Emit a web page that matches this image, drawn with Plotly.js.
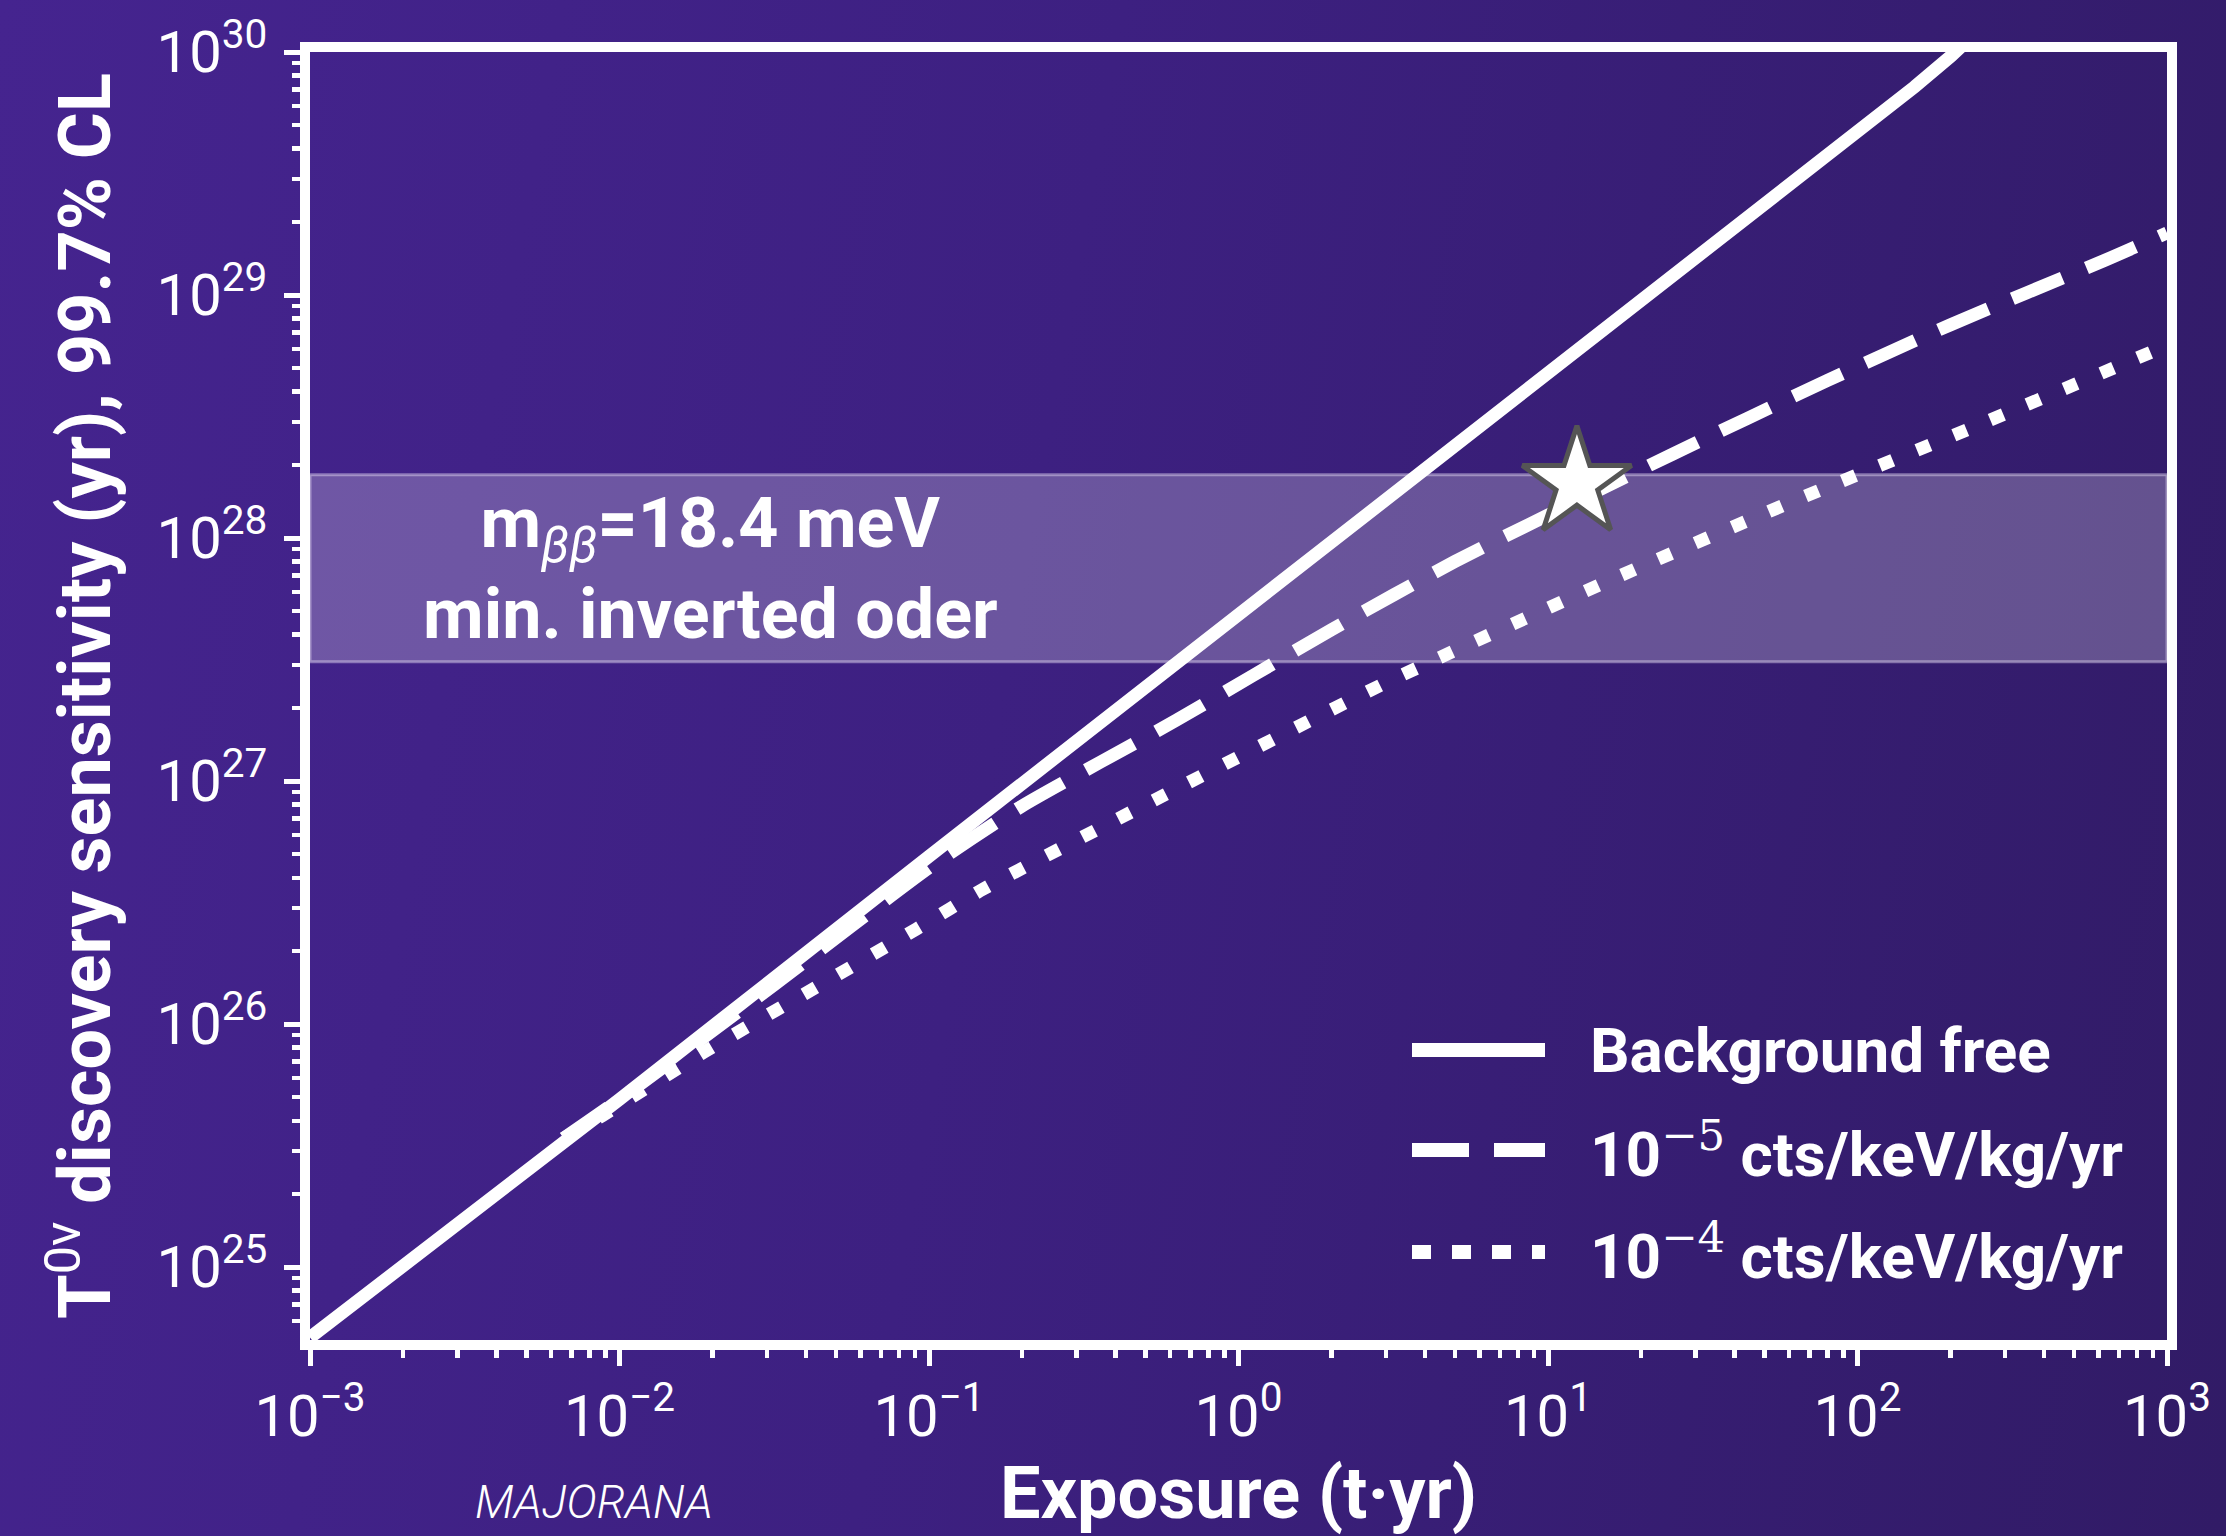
<!DOCTYPE html>
<html><head><meta charset="utf-8">
<script src="https://cdn.plot.ly/plotly-3.0.1.min.js"></script>
<style>
html,body{margin:0;padding:0;width:2226px;height:1536px;overflow:hidden;
background:linear-gradient(100deg,#45248f 0%,#3d2081 45%,#311b66 100%);}
#chart{width:2226px;height:1536px;}
</style></head><body><div id="chart"></div>
<script>
// ---- data (exposure in t·yr, half-life sensitivity in yr) ----
const bgFreeExposure = [0.001, 0.01, 0.1, 1, 10, 100, 153, 200, 250];
const bgFreeT        = [5.13e24, 4.9e25, 4.9e26, 4.79e27, 4.68e28, 4.6e29, 7.19e29, 9.6e29, 1.25e30];

const bkg5Exposure = [0.0066, 0.01, 0.0316, 0.1, 0.2, 0.63, 2.0, 5.0, 25, 80, 200, 630, 1000];
const bkg5T        = [3.39e25, 4.9e25, 1.45e26, 4.4e26, 7.9e26, 1.78e27, 4.2e27, 8.0e27, 2.2e28, 4.45e28, 7.55e28, 1.39e29, 1.80e29];

const bkg4Exposure = [0.0066, 0.0088, 0.019, 0.042, 0.091, 0.15, 0.58, 2.9, 15, 59, 240, 1000];
const bkg4T        = [3.39e25, 4.2e25, 7.75e25, 1.39e26, 2.46e26, 3.6e26, 8.8e26, 2.49e27, 6.5e27, 1.38e28, 2.88e28, 6.2e28];

const starExposure = [12.4];
const starT        = [1.68e28];

const bandLow  = 3.1e27;   // m_bb = 18.4 meV band
const bandHigh = 1.82e28;

const supStyle = 'font-family:DejaVu Serif;font-weight:normal';
const seriesNames = [
  'Background free',
  '10<sup><span style="' + supStyle + '">−5</span></sup> cts/keV/kg/yr',
  '10<sup><span style="' + supStyle + '">−4</span></sup> cts/keV/kg/yr'
];

const xTickVals = [0.001, 0.01, 0.1, 1, 10, 100, 1000];
const xTickText = ['10<sup>−3</sup>','10<sup>−2</sup>','10<sup>−1</sup>','10<sup>0</sup>','10<sup>1</sup>','10<sup>2</sup>','10<sup>3</sup>'];
const yTickVals = [1e25, 1e26, 1e27, 1e28, 1e29, 1e30];
const yTickText = ['10<sup>25</sup>','10<sup>26</sup>','10<sup>27</sup>','10<sup>28</sup>','10<sup>29</sup>','10<sup>30</sup>'];

// ---- styling ----
const W = 'white';
const LW = 13;
const traces = [
  {x: bgFreeExposure, y: bgFreeT, mode:'lines', name: seriesNames[0], line:{color:W, width:LW}},
  {x: bkg5Exposure, y: bkg5T, mode:'lines', name: seriesNames[1], line:{color:W, width:LW, dash:'54px,26px', shape:'spline', smoothing:0.6}},
  {x: bkg4Exposure, y: bkg4T, mode:'lines', name: seriesNames[2], line:{color:W, width:LW, dash:'14px,26px', shape:'spline', smoothing:0.6}},
  {x: starExposure, y: starT, mode:'markers', name:'star',
   marker:{symbol:'star', size:82, color:'white', line:{color:'#555555', width:5}}}
];

const L = 310, R = 59, T = 52, B = 196;
const plotW = 2226 - L - R, plotH = 1536 - T - B;
const px = v => (v - L) / plotW;
const py = v => (1536 - B - v) / plotH;

const tickFont = {family:'Roboto, sans-serif', size:58, color:W};
const titleFont = {family:'Roboto, sans-serif', size:72, color:W, weight:700};

const legendRows = [1050, 1150, 1252];
const legendDash = ['solid', '57px,25px', '19px,21px'];

const shapes = [
  {type:'rect', xref:'x domain', x0:0, x1:1, yref:'y', y0:bandLow, y1:bandHigh,
   fillcolor:'rgba(215,208,228,0.30)', line:{color:'rgba(230,222,245,0.45)', width:3}, layer:'below'}
];
legendRows.forEach((r, i) => {
  shapes.push({type:'line', xref:'paper', yref:'paper', x0:px(1412), x1:px(1545), y0:py(r), y1:py(r),
    line:{color:W, width:14, dash:legendDash[i]}});
});

const annotations = [
  {xref:'paper', x:px(710), yref:'y', y:(Math.log10(bandLow)+Math.log10(bandHigh))/2,
   text:'m<sub><i><span style="font-weight:normal">ββ</span></i></sub>=18.4 meV<br>min. inverted oder',
   showarrow:false, xanchor:'center', yanchor:'middle',
   font:{family:'Roboto, sans-serif', size:70, color:W, weight:700}},
  {xref:'paper', x:px(594), yref:'paper', y:py(1530), text:'MAJORANA', showarrow:false,
   xanchor:'center', yanchor:'bottom', borderpad:0,
   font:{family:'Roboto, sans-serif', size:46, color:W, style:'italic', weight:300}}
];
legendRows.forEach((r, i) => {
  annotations.push({xref:'paper', yref:'paper', x:px(1588), y:py(r), xanchor:'left', yanchor:'middle',
    showarrow:false, text:seriesNames[i],
    font:{family:'Roboto, sans-serif', size:62, color:W, weight:700}});
});

const axisCommon = {
  type:'log', showline:true, linewidth:10, linecolor:W, mirror:true,
  showgrid:false, zeroline:false, ticks:'outside', ticklen:16, tickwidth:5, tickcolor:W,
  tickmode:'array', tickfont:tickFont,
  minor:{ticks:'outside', ticklen:8, tickwidth:4.5, tickcolor:W, dtick:'D1', showgrid:false}
};

const layout = {
  width:2226, height:1536,
  margin:{l:L, r:R, t:T, b:B},
  paper_bgcolor:'rgba(0,0,0,0)', plot_bgcolor:'rgba(0,0,0,0)',
  showlegend:false, hovermode:false,
  xaxis: Object.assign({}, axisCommon, {
    range:[-3, 3], tickvals:xTickVals, ticktext:xTickText, ticklabelstandoff:0,
    title:{text:'Exposure (t·yr)', font:titleFont, standoff:27}
  }),
  yaxis: Object.assign({}, axisCommon, {
    range:[24.7, 30], tickvals:yTickVals, ticktext:yTickText, ticklabelstandoff:5,
    title:{text:'T<sup><span style="font-weight:normal">0ν</span></sup> discovery sensitivity (yr), 99.7% CL', font:titleFont, standoff:26}
  }),
  shapes: shapes,
  annotations: annotations
};

Plotly.newPlot('chart', traces, layout, {staticPlot:true, displayModeBar:false});
</script></body></html>
